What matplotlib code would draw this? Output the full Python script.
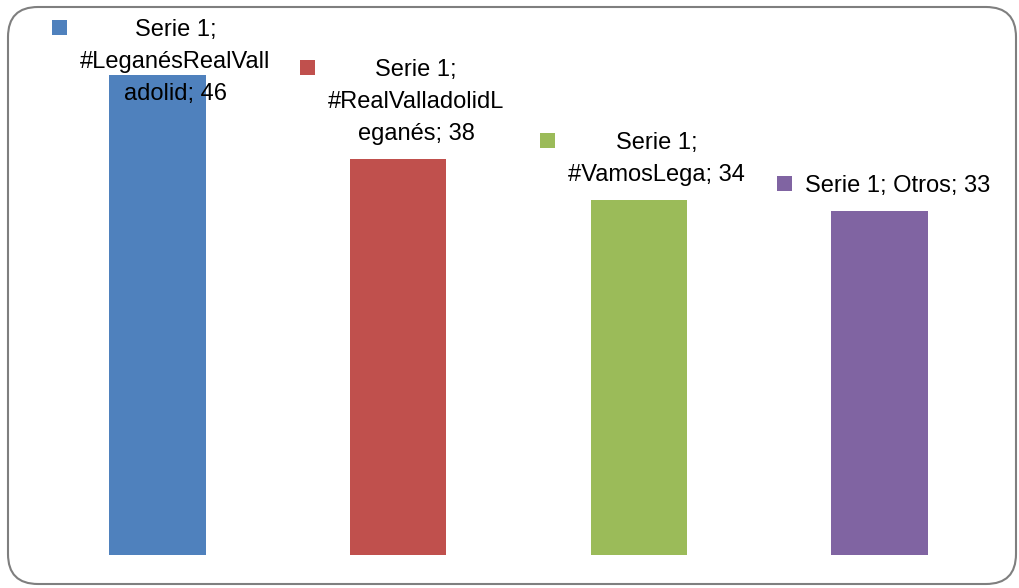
import matplotlib

matplotlib.use("Agg")
import matplotlib.pyplot as plt
from matplotlib.patches import FancyBboxPatch, Rectangle
from matplotlib.transforms import IdentityTransform

# -- Data ---------------------------------------------------------------------

SERIES = "Serie 1"
CATEGORIES = ["#LeganésRealValladolid", "#RealValladolidLeganés", "#VamosLega", "Otros"]
VALUES = [46, 38, 34, 33]
COLORS = ["#4F81BD", "#C0504D", "#9BBB59", "#8064A2"]
# data labels as wrapped in the original chart
LABELS = [
    "Serie 1;\n#LeganésRealVall\nadolid; 46",
    "Serie 1;\n#RealValladolidL\neganés; 38",
    "Serie 1;\n#VamosLega; 34",
    "Serie 1; Otros; 33",
]

W, H = 1020, 588
DPI = 100
FONT = "Liberation Sans"
LINE_STEP = 32  # px between baselines

fig = plt.figure(figsize=(W / DPI, H / DPI), dpi=DPI)
ax = fig.add_axes([37 / W, 33 / H, 963 / W, 521.5 / H])

x = list(range(len(CATEGORIES)))
ax.bar(x, VALUES, width=0.40, color=COLORS)
ax.set_xlim(-0.5, len(CATEGORIES) - 0.5)
ax.set_ylim(0, 50)
ax.axis("off")

# rounded chart border
border = FancyBboxPatch((8, 4), 1008, 577, boxstyle="round,pad=0,rounding_size=30",
                        transform=IdentityTransform(), facecolor="none",
                        edgecolor="#7f7f7f", linewidth=1.5)
fig.patches.append(border)

# data labels (one text per line, fixed baseline step) with legend keys
fig.canvas.draw()
renderer = fig.canvas.get_renderer()
for i, (lab, val, c) in enumerate(zip(LABELS, VALUES, COLORS)):
    px, py = ax.transData.transform((i, val))
    lines = lab.split("\n")
    first = py + 19 + LINE_STEP * (len(lines) - 1)
    first = min(first, H - 36)
    left = None
    for k, line in enumerate(lines):
        t = fig.text(px + 18, first - k * LINE_STEP, line, ha="center", va="baseline",
                     fontsize=17, family=FONT, transform=IdentityTransform())
        bb = t.get_window_extent(renderer)
        left = bb.x0 if left is None else min(left, bb.x0)
    key = Rectangle((left - 13 - 15, first + 1), 15, 15, facecolor=c,
                    edgecolor="none", transform=IdentityTransform())
    fig.patches.append(key)

fig.savefig("out.png", dpi=DPI)
